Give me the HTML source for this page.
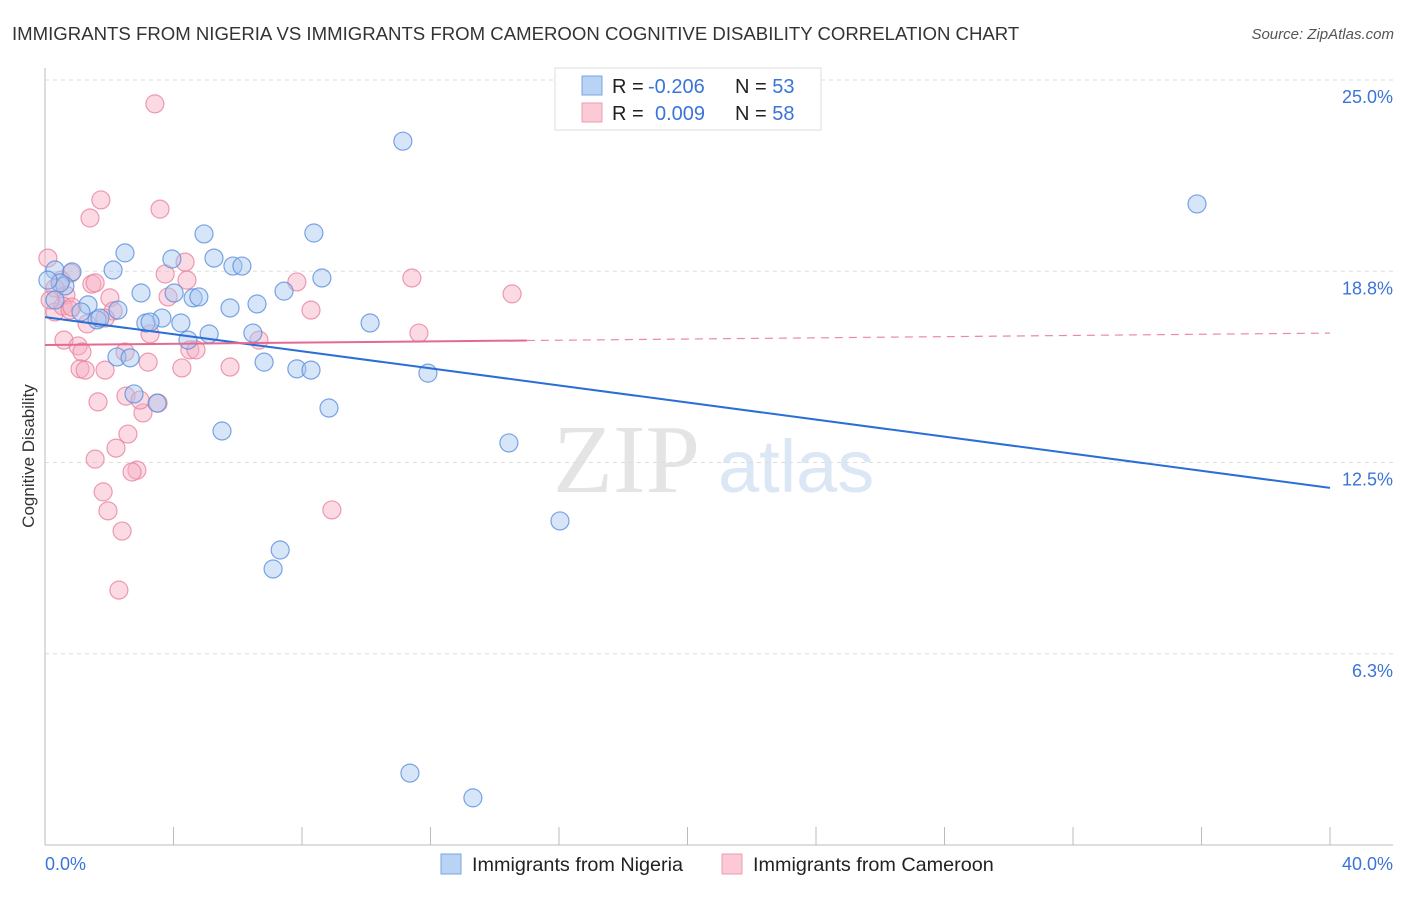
<!DOCTYPE html>
<html><head><meta charset="utf-8"><style>
body{margin:0;background:#fff;font-family:"Liberation Sans",sans-serif}
svg text{font-family:"Liberation Sans",sans-serif}
</style></head><body>
<svg id="c" width="1406" height="892" viewBox="0 0 1406 892">
<text x="12" y="40" font-size="18.6" fill="#333">IMMIGRANTS FROM NIGERIA VS IMMIGRANTS FROM CAMEROON COGNITIVE DISABILITY CORRELATION CHART</text>
<text x="1394" y="39" font-size="15" fill="#555" font-style="italic" text-anchor="end">Source: ZipAtlas.com</text>
<g>
<text x="553" y="492" font-size="98" fill="#e4e4e4" font-family="Liberation Serif" style="font-family:'Liberation Serif',serif">ZIP</text>
<text x="718" y="492" font-size="74" fill="#dbe7f5">atlas</text>
</g>
<g id="grid"></g><g id="axes"></g><g id="marks"></g><g id="trend"></g>
<text transform="translate(34,456) rotate(-90)" font-size="17" fill="#333" text-anchor="middle">Cognitive Disability</text>
<text x="45" y="870" font-size="18" fill="#3b74d8">0.0%</text>
<text x="1393" y="870" font-size="18" fill="#3b74d8" text-anchor="end">40.0%</text>
<g>
<rect x="555" y="68" width="266" height="62" fill="#fff" stroke="#ddd"/>
<rect x="582" y="76" width="20" height="19" fill="#b9d3f5" stroke="#7ba4e3"/>
<rect x="582" y="103" width="20" height="19" fill="#fcc9d7" stroke="#ee9db6"/>
<text x="612" y="93" font-size="20" fill="#222">R = <tspan fill="#3b74d8" x="648">-0.206</tspan><tspan x="735">N = </tspan><tspan fill="#3b74d8">53</tspan></text>
<text x="612" y="120" font-size="20" fill="#222">R = <tspan fill="#3b74d8" x="655">0.009</tspan><tspan x="735">N = </tspan><tspan fill="#3b74d8">58</tspan></text>
</g>
<g>
<rect x="441" y="854" width="20" height="20" fill="#b9d3f5" stroke="#7ba4e3"/>
<text x="472" y="871" font-size="19.8" fill="#222">Immigrants from Nigeria</text>
<rect x="722" y="854" width="20" height="20" fill="#fcc9d7" stroke="#ee9db6"/>
<text x="753" y="871" font-size="19.8" fill="#222">Immigrants from Cameroon</text>
</g>
</svg>
<script>
const yTicks=[25,18.75,12.5,6.25];
const yTickLabels=["25.0%","18.8%","12.5%","6.3%"];
const blueX=[11.14,35.86,4.95,8.37,2.49,3.95,5.26,5.85,6.13,2.12,0.31,0.84,8.62,0.62,2.99,4.02,4.61,4.79,7.44,5.76,6.60,1.34,1.12,2.27,3.64,3.14,3.27,4.23,10.12,1.62,5.11,6.47,4.45,2.24,2.65,6.82,7.84,8.28,11.92,2.77,3.49,8.84,5.51,14.44,16.03,7.32,7.10,11.36,13.32,0.31,0.47,0.09,1.71];
const blueY=[23.0,20.95,19.97,20.0,19.35,19.15,19.18,18.92,18.92,18.79,18.79,18.73,18.53,18.27,18.04,18.04,17.88,17.91,18.10,17.55,17.68,17.65,17.42,17.48,17.22,17.06,17.09,17.06,17.06,17.16,16.70,16.73,16.50,15.95,15.92,15.78,15.56,15.52,15.42,14.74,14.44,14.28,13.53,13.14,10.59,9.64,9.02,2.35,1.54,17.81,18.37,18.46,17.22];
const pinkX=[3.42,1.74,3.58,1.40,0.09,4.36,3.74,0.81,4.42,7.84,11.42,14.54,1.46,1.56,0.65,2.02,3.83,0.31,0.56,0.78,2.12,8.28,11.64,1.31,3.27,6.66,0.59,1.03,4.51,1.15,4.70,2.49,3.21,5.76,1.09,1.25,1.87,4.26,1.65,2.52,3.52,3.05,2.58,2.21,1.56,2.86,2.71,1.81,1.96,8.93,2.40,2.30,0.50,0.31,1.87,0.84,2.96,0.16];
const pinkY=[24.22,21.08,20.78,20.49,19.18,19.05,18.66,18.69,18.46,18.40,18.53,18.01,18.33,18.37,17.97,17.88,17.91,17.42,17.61,17.48,17.45,17.48,16.73,17.03,16.70,16.50,16.50,16.31,16.18,16.11,16.18,16.11,15.78,15.62,15.56,15.52,15.52,15.59,14.48,14.67,14.44,14.12,13.43,12.97,12.61,12.25,12.19,11.54,10.92,10.95,10.26,8.33,18.46,18.20,17.22,17.58,14.54,17.81];
const blueTrend=[17.25,11.67];
const pinkTrend=[16.34,16.73];
const NS="http://www.w3.org/2000/svg";
const X0=45,X1=1330,Y0=845,YS=30.6;
const sx=v=>X0+(X1-X0)*v/40;
const sy=v=>Y0-v*YS;
function mk(p,t,a){const e=document.createElementNS(NS,t);for(const k in a)e.setAttribute(k,a[k]);document.getElementById(p).appendChild(e);return e;}
yTicks.forEach((t,i)=>{
 const l=mk('grid','line',{x1:X0,x2:1393,y1:sy(t),y2:sy(t),stroke:'#ddd','stroke-dasharray':'4,4'});
 
 
 const tx=mk('grid','text',{x:1393,y:sy(t)+23,'font-size':18,fill:'#3b74d8','text-anchor':'end'});
 tx.textContent=yTickLabels[i];
 
 
});
const ya=mk('axes','line',{x1:X0,x2:X0,y1:68,y2:Y0,stroke:'#bbb'});


const xa=mk('axes','line',{x1:X0,x2:1393,y1:Y0,y2:Y0,stroke:'#bbb'});


for(let i=0;i<=10;i++){const t=mk('axes','line',{x1:sx(i*4),x2:sx(i*4),y1:827,y2:Y0,stroke:'#bbb'});
 
 }
function pts(xs,ys,fill,stroke,name){xs.forEach((v,i)=>{const c=mk('marks','circle',{cx:sx(v),cy:sy(ys[i]),r:9,fill:fill,'fill-opacity':0.45,stroke:stroke,'stroke-opacity':0.8,'stroke-width':1.2});
 
 });}
pts(pinkX,pinkY,'#f7aec3','#e8839f','point-cameroon');
pts(blueX,blueY,'#a6c6f0','#5a8fdc','point-nigeria');
const bl=mk('trend','line',{x1:sx(0),y1:sy(blueTrend[0]),x2:sx(40),y2:sy(blueTrend[1]),stroke:'#2b6fd6','stroke-width':2});


const pm=pinkTrend[0]+(pinkTrend[1]-pinkTrend[0])*15/40;
const pl=mk('trend','line',{x1:sx(0),y1:sy(pinkTrend[0]),x2:sx(15),y2:sy(pm),stroke:'#e46a92','stroke-width':2});


const pd=mk('trend','line',{x1:sx(15),y1:sy(pm),x2:sx(40),y2:sy(pinkTrend[1]),stroke:'#e88aa8','stroke-width':1.2,'stroke-dasharray':'8,6'});


</script>
</body></html>
